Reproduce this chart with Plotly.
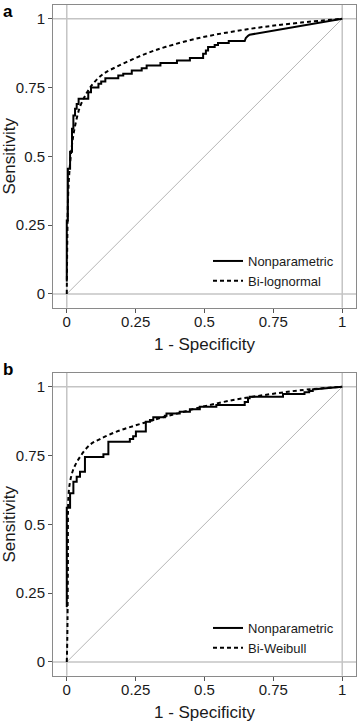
import plotly.graph_objects as go

# ---------------- data ----------------
# Panel a: nonparametric empirical ROC (vertices of the step curve)
a_np_fpr = [0, 0, 0.004, 0.004, 0.012, 0.012, 0.019, 0.019, 0.024, 0.024, 0.030, 0.030,
            0.036, 0.036, 0.043, 0.043, 0.078, 0.078, 0.088, 0.088, 0.115, 0.115, 0.125,
            0.125, 0.140, 0.140, 0.187, 0.187, 0.205, 0.205, 0.236, 0.236, 0.272, 0.272,
            0.29, 0.29, 0.34, 0.34, 0.40, 0.40, 0.447, 0.447, 0.495, 0.495, 0.505, 0.505,
            0.513, 0.513, 0.537, 0.537, 0.549, 0.549, 0.588, 0.588, 0.646, 0.650, 0.658,
            0.664, 1.0]
a_np_tpr = [0.045, 0.267, 0.267, 0.455, 0.455, 0.517, 0.517, 0.60, 0.60, 0.648, 0.648, 0.673,
            0.673, 0.690, 0.690, 0.709, 0.709, 0.733, 0.733, 0.75, 0.75, 0.764, 0.764,
            0.772, 0.772, 0.784, 0.784, 0.794, 0.794, 0.80, 0.80, 0.812, 0.812, 0.82,
            0.82, 0.83, 0.83, 0.839, 0.839, 0.848, 0.848, 0.857, 0.857, 0.873, 0.873, 0.885,
            0.885, 0.897, 0.897, 0.905, 0.905, 0.912, 0.912, 0.919, 0.919, 0.93, 0.938,
            0.942, 1.0]
# Panel a: fitted bi-lognormal ROC
a_fit_fpr = [0, 0.002, 0.005, 0.010, 0.020, 0.030, 0.048, 0.072, 0.096, 0.133, 0.18, 0.24,
             0.30, 0.36, 0.48, 0.60, 0.72, 0.85, 1.0]
a_fit_tpr = [0, 0.20, 0.36, 0.45, 0.55, 0.61, 0.68, 0.73, 0.765, 0.80, 0.825, 0.853,
             0.878, 0.898, 0.93, 0.953, 0.971, 0.986, 1.0]

# Panel b: nonparametric empirical ROC
b_np_fpr = [0, 0, 0.012, 0.012, 0.024, 0.024, 0.036, 0.036, 0.048, 0.048, 0.066, 0.066,
            0.133, 0.133, 0.151, 0.151, 0.229, 0.229, 0.241, 0.241, 0.251, 0.251, 0.287,
            0.287, 0.302, 0.302, 0.314, 0.314, 0.356, 0.356, 0.362, 0.362, 0.41, 0.41,
            0.447, 0.447, 0.483, 0.483, 0.543, 0.543, 0.646, 0.646, 0.658, 0.658, 0.664,
            0.664, 0.785, 0.785, 0.863, 0.863, 0.88, 0.88, 0.893, 0.893, 1.0]
b_np_tpr = [0.20, 0.56, 0.56, 0.613, 0.613, 0.655, 0.655, 0.673, 0.673, 0.691, 0.691, 0.745,
            0.745, 0.755, 0.755, 0.80, 0.80, 0.81, 0.81, 0.82, 0.82, 0.837, 0.837,
            0.873, 0.873, 0.879, 0.879, 0.889, 0.889, 0.895, 0.895, 0.903, 0.903, 0.909,
            0.909, 0.918, 0.918, 0.927, 0.927, 0.934, 0.934, 0.945, 0.945, 0.958, 0.958,
            0.964, 0.964, 0.974, 0.974, 0.98, 0.98, 0.985, 0.985, 0.99, 1.0]
# Panel b: fitted bi-Weibull ROC
b_fit_fpr = [0, 0.002, 0.004, 0.006, 0.012, 0.024, 0.048, 0.085, 0.121, 0.181, 0.241, 0.302,
             0.362, 0.41, 0.483, 0.604, 0.725, 0.845, 1.0]
b_fit_tpr = [0, 0.09, 0.33, 0.60, 0.655, 0.70, 0.745, 0.79, 0.81, 0.837, 0.857, 0.875,
             0.893, 0.905, 0.925, 0.952, 0.971, 0.987, 1.0]

# chance diagonal
diag_x = [0, 1]
diag_y = [0, 1]

tick_vals = [0, 0.25, 0.5, 0.75, 1]
tick_text = ["0", "0.25", "0.5", "0.75", "1"]

panel_labels = ["a", "b"]
fit_names = ["Bi-lognormal", "Bi-Weibull"]
x_title = "1 - Specificity"
y_title = "Sensitivity"

# ---------------- figure ----------------
FONT = "Liberation Sans, Arial, sans-serif"
W, H = 358, 725

fig = go.Figure()

panels = [
    (a_np_fpr, a_np_tpr, a_fit_fpr, a_fit_tpr, "x", "y", "legend"),
    (b_np_fpr, b_np_tpr, b_fit_fpr, b_fit_tpr, "x2", "y2", "legend2"),
]

for i, (nx, ny, fx, fy, xa, ya, lg) in enumerate(panels):
    fig.add_trace(go.Scatter(x=diag_x, y=diag_y, mode="lines", xaxis=xa, yaxis=ya,
                             line=dict(color="#b5b5b5", width=1), showlegend=False,
                             hoverinfo="skip"))
    fig.add_trace(go.Scatter(x=nx, y=ny, mode="lines", name="Nonparametric",
                             xaxis=xa, yaxis=ya, legend=lg,
                             line=dict(color="black", width=2)))
    fig.add_trace(go.Scatter(x=fx, y=fy, mode="lines", name=fit_names[i],
                             xaxis=xa, yaxis=ya, legend=lg, line_shape="spline",
                             line=dict(color="black", width=2, dash="4px,3px")))
    # reference lines at 0 and 1
    for v in (0, 1):
        fig.add_shape(type="line", xref=xa, yref=ya + " domain",
                      x0=v, x1=v, y0=0, y1=1, layer="below",
                      line=dict(color="#c4c4c4", width=1.5))
        fig.add_shape(type="line", xref=xa + " domain", yref=ya,
                      x0=0, x1=1, y0=v, y1=v, layer="below",
                      line=dict(color="#c4c4c4", width=1.5))

x_dom = [53 / W, 356 / W]
y_doms = [[1 - 307.7 / H, 1 - 5 / H], [1 - 675.7 / H, 1 - 373 / H]]

axis_common = dict(range=[-0.05, 1.05], tickvals=tick_vals, ticktext=tick_text,
                   showgrid=False, zeroline=False, showline=True, mirror=True,
                   linecolor="#8a8a8a", linewidth=1, ticks="outside", ticklen=4,
                   tickcolor="#555", tickfont=dict(family=FONT, size=15, color="#1a1a1a"),
                   fixedrange=True)
x_extra = dict(ticklabelstandoff=-4)

fig.update_layout(
    width=W, height=H, margin=dict(l=0, r=0, t=0, b=0),
    paper_bgcolor="white", plot_bgcolor="white",
    font=dict(family=FONT, color="#1a1a1a"),
    xaxis=dict(domain=x_dom, anchor="y", **axis_common, **x_extra,
               title=dict(text=x_title, font=dict(size=17), standoff=9)),
    yaxis=dict(domain=y_doms[0], anchor="x", **axis_common,
               title=dict(text=y_title, font=dict(size=17), standoff=4)),
    xaxis2=dict(domain=x_dom, anchor="y2", **axis_common, **x_extra,
                title=dict(text=x_title, font=dict(size=17), standoff=9)),
    yaxis2=dict(domain=y_doms[1], anchor="x2", **axis_common,
                title=dict(text=y_title, font=dict(size=17), standoff=4)),
    legend=dict(x=208 / W, y=1 - 246 / H, xanchor="left", yanchor="top",
                bgcolor="rgba(0,0,0,0)", font=dict(size=13, family=FONT),
                tracegroupgap=0, itemwidth=30),
    legend2=dict(x=208 / W, y=1 - 613 / H, xanchor="left", yanchor="top",
                 bgcolor="rgba(0,0,0,0)", font=dict(size=13, family=FONT),
                 tracegroupgap=0, itemwidth=30),
)

for lbl, ytop in zip(panel_labels, [1 - 0 / H, 1 - 358 / H]):
    fig.add_annotation(text="<b>" + lbl + "</b>", xref="paper", yref="paper",
                       x=0.003, y=ytop, xanchor="left", yanchor="top", showarrow=False,
                       font=dict(family=FONT, size=17, color="black"))

fig.write_html("out.html", config={"displayModeBar": False},
               post_script="document.body.style.margin='0';")
